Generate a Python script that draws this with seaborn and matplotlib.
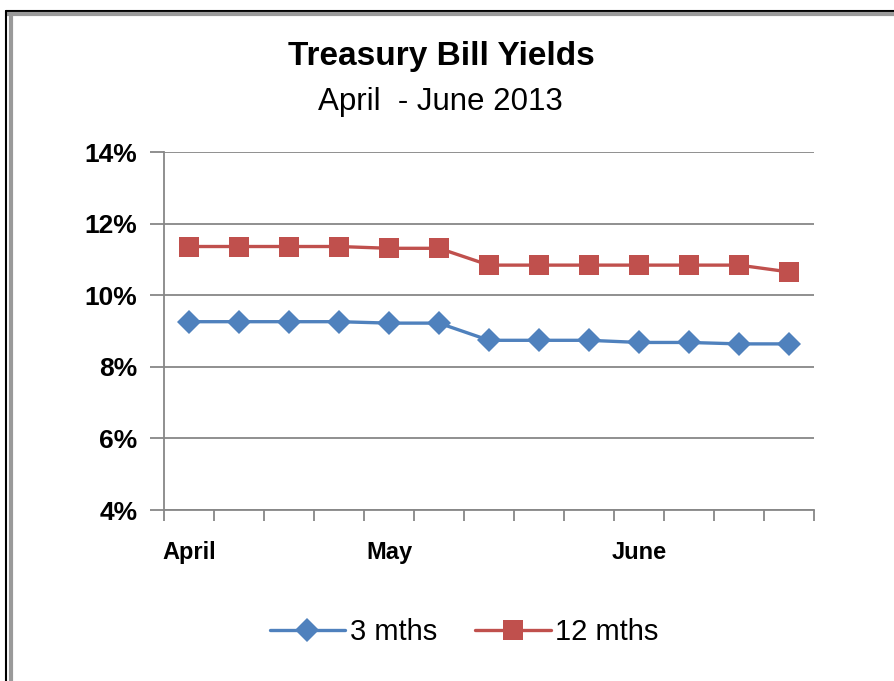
import matplotlib
matplotlib.use("Agg")
import matplotlib.pyplot as plt
import matplotlib.ticker as mticker
from matplotlib.lines import Line2D
import numpy as np
import pandas as pd
import seaborn as sns

# weekly observations, April - June 2013
week_labels = ["April", "", "", "", "May", "", "", "", "", "June", "", "", ""]
yield_3m = [9.26, 9.26, 9.26, 9.26, 9.22, 9.22, 8.74, 8.74, 8.74, 8.68, 8.68, 8.64, 8.64]
yield_12m = [11.36, 11.36, 11.36, 11.36, 11.31, 11.31, 10.84, 10.84, 10.84, 10.84, 10.84, 10.84, 10.65]
y_ticks = [4, 6, 8, 10, 12, 14]

BLUE = "#4F81BD"
RED = "#C0504D"
GRID = "#878787"

sns.set_theme(style="white")
plt.rcParams["font.family"] = ["Liberation Sans", "DejaVu Sans"]
plt.rcParams["text.color"] = "black"
plt.rcParams["xtick.color"] = "black"
plt.rcParams["ytick.color"] = "black"

df = pd.DataFrame({"week": np.arange(len(week_labels)), "3 mths": yield_3m, "12 mths": yield_12m})

fig = plt.figure(figsize=(8.94, 6.81), dpi=100)
ax = fig.add_axes([164 / 894, 1 - 510 / 681, 650 / 894, 358 / 681])

sns.lineplot(data=df, x="week", y="3 mths", ax=ax, color=BLUE, lw=2.4,
             marker="D", markersize=12, markeredgewidth=0, label="3 mths")
sns.lineplot(data=df, x="week", y="12 mths", ax=ax, color=RED, lw=2.4,
             marker="s", markersize=14, markeredgewidth=0, label="12 mths")

ax.set_xlim(-0.5, len(week_labels) - 0.5)
ax.set_ylim(4, 14)
ax.set_yticks(y_ticks)
ax.yaxis.set_major_formatter(mticker.FuncFormatter(lambda v, _: f"{v:.0f}%"))
ax.yaxis.grid(True, color=GRID, lw=1.3)
ax.set_axisbelow(True)

# category labels centred, tick marks between categories
ax.set_xticks(df["week"])
ax.set_xticklabels(week_labels)
ax.set_xticks(np.arange(-0.5, len(week_labels)), minor=True)
ax.tick_params(axis="x", which="major", length=0, pad=22, labelsize=17)
ax.tick_params(axis="x", which="minor", length=8, width=1.3, color=GRID, direction="out", bottom=True)
ax.tick_params(axis="y", length=10, width=1.3, color=GRID, labelcolor="black",
               direction="out", left=True, pad=9, labelsize=19)
for lab in ax.get_xticklabels() + ax.get_yticklabels():
    lab.set_fontweight("bold")

sns.despine(ax=ax)
for side in ("left", "bottom"):
    ax.spines[side].set_color(GRID)
    ax.spines[side].set_linewidth(1.3)
ax.set_xlabel("")
ax.set_ylabel("")

ax.legend(loc="center", ncol=2, frameon=False, fontsize=21, handlelength=2.6,
          handletextpad=0.15, columnspacing=1.3,
          bbox_to_anchor=(464 / 894, 1 - 632 / 681), bbox_transform=fig.transFigure)

fig.text(441 / 894, 1 - 56 / 681, "Treasury Bill Yields", ha="center", va="center",
         fontsize=24, fontweight="bold")
fig.text(440 / 894, 1 - 102 / 681, "April  - June 2013", ha="center", va="center", fontsize=22.5)

# chart frame (top and left edges visible)
fig.add_artist(Line2D([6 / 894, 1], [1 - 11 / 681] * 2, transform=fig.transFigure, color="black", lw=1.5))
fig.add_artist(Line2D([7 / 894, 1], [1 - 14 / 681] * 2, transform=fig.transFigure, color="#9a9a9a", lw=3))
fig.add_artist(Line2D([6 / 894] * 2, [0, 1 - 11 / 681], transform=fig.transFigure, color="black", lw=1.5))
fig.add_artist(Line2D([11 / 894] * 2, [0, 1 - 14 / 681], transform=fig.transFigure, color="#9a9a9a", lw=3))

fig.savefig("out.png", dpi=100)
